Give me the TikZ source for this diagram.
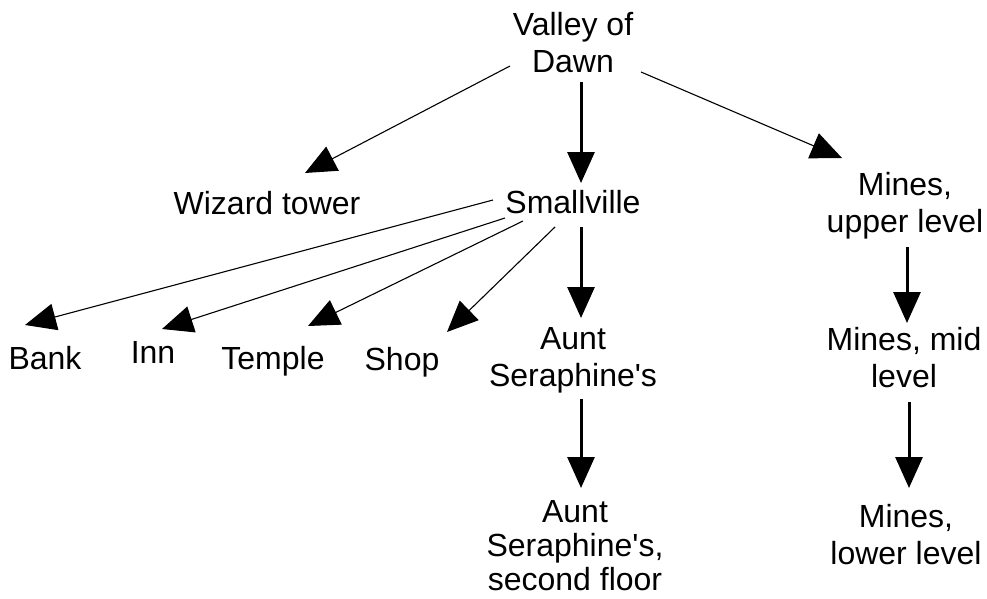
\documentclass[tikz,border=0pt]{standalone}
\usepackage{fontspec}
\setmainfont{Liberation Sans}
\usetikzlibrary{arrows.meta,calc}

\newcommand{\apos}{\textquotesingle}

\tikzset{
  place/.style={align=center, inner sep=0pt, outer sep=0pt, anchor=north,
    font=\fontsize{32}{37}\selectfont},
  thinedge/.style={line width=1.1pt, -{Triangle[length=31pt,width=27pt]}},
  thickedge/.style={line width=3pt, -{Triangle[length=31pt,width=27pt]}},
}

\begin{document}
\begin{tikzpicture}[x=1pt,y=-1pt]
  \useasboundingbox (0,0) rectangle (987,599);

  % places
  \node[place] (valley)  at (573,12)  {Valley of\\Dawn};
  \node[place] (wizard)  at (267,191) {Wizard tower};
  \node[place] (small)   at (573,190) {Smallville};
  \node[place] (minesU)  at (905,172) {Mines,\\upper level};
  \node[place] (bank)    at (45,346)  {Bank};
  \node[place] (inn)     at (153,341) {Inn};
  \node[place] (temple)  at (273,346) {Temple};
  \node[place] (shop)    at (402,347) {Shop};
  \node[place] (aunt)    at (573,327) {Aunt\\Seraphine\apos s};
  \node[place] (minesM)  at (904,327) {Mines, mid\\level};
  \node[place, font=\fontsize{32}{34}\selectfont]
               (aunt2)   at (575,500) {Aunt\\Seraphine\apos s,\\second floor};
  \node[place] (minesL)  at (906,504) {Mines,\\lower level};

  % paths out of the valley
  \draw[thinedge]  ($(valley.north)+(-63,54)$) -- ($(wizard.north)+(38,-18)$);
  \draw[thickedge] ($(valley.north)+(8,70)$)   -- ($(small.north)+(8,-7)$);
  \draw[thinedge]  ($(valley.north)+(68,60)$)  -- ($(minesU.north)+(-63,-14)$);

  % town buildings
  \draw[thinedge]  ($(small.north)+(-80,10)$)  -- ($(bank.north)+(-20,-21)$);
  \draw[thinedge]  ($(small.north)+(-68,28)$)  -- ($(inn.north)+(9,-12)$);
  \draw[thinedge]  ($(small.north)+(-50,31)$)  -- ($(temple.north)+(35,-20)$);
  \draw[thinedge]  ($(small.north)+(-18,37)$)  -- ($(shop.north)+(45,-15)$);
  \draw[thickedge] ($(small.north)+(8,37)$)    -- ($(aunt.north)+(8,-9)$);
  \draw[thickedge] ($(aunt.north)+(8,72)$)     -- ($(aunt2.north)+(6,-12)$);

  % mine levels
  \draw[thickedge] ($(minesU.north)+(2,75)$)   -- ($(minesM.north)+(3,-4)$);
  \draw[thickedge] ($(minesM.north)+(5,75)$)   -- ($(minesL.north)+(3,-16)$);
\end{tikzpicture}
\end{document}
